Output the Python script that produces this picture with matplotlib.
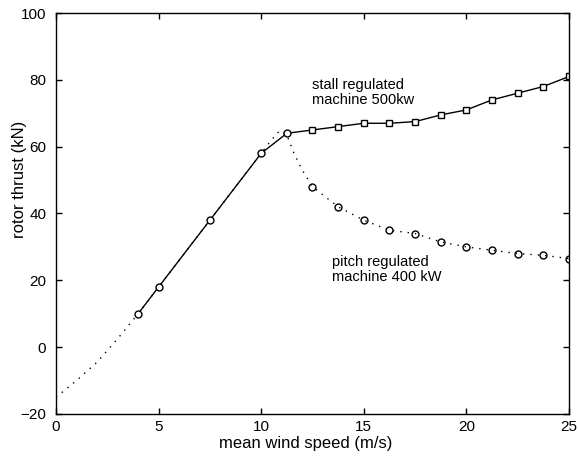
import numpy as np
import matplotlib.pyplot as plt

plt.rcParams.update({
  "font.family": "Liberation Sans",
  "font.size": 10.5
})

# stall regulated machine (solid line)
stall_circ_x = [4, 5, 7.5, 10, 11.25]
stall_circ_y = [10, 18, 38, 58, 64]
stall_sq_x = [12.5, 13.75, 15, 16.25, 17.5, 18.75, 20, 21.25, 22.5, 23.75, 25]
stall_sq_y = [65, 66, 67, 67, 67.5, 69.5, 71, 74, 76, 78, 81]

# pitch regulated machine (dotted line)
pitch_line_x = [0, 1, 2, 3, 4, 5, 7.5, 10, 10.5, 10.9, 11.25, 11.6, 12.0, 12.5,
                13.75, 15, 16.25, 17.5, 18.75, 20, 21.25, 22.5, 23.75, 25]
pitch_line_y = [-15, -10, -4.5, 2.5, 10, 18, 38, 58, 62, 64.8, 63.5, 58, 53, 48,
                42, 38, 35, 34, 31.5, 30, 29, 28, 27.5, 26.5]
pitch_mk_x = [12.5, 13.75, 15, 16.25, 17.5, 18.75, 20, 21.25, 22.5, 23.75, 25]
pitch_mk_y = [48, 42, 38, 35, 34, 31.5, 30, 29, 28, 27.5, 26.5]

fig = plt.figure(figsize=(5.78, 4.58), dpi=100)
ax = fig.add_axes([0.0969, 0.0961, 0.8875, 0.8755])

ax.plot(pitch_line_x, pitch_line_y, color='k', linestyle=(0, (1, 4.3)), linewidth=1.0)

ax.plot(stall_circ_x + stall_sq_x, stall_circ_y + stall_sq_y, '-',
        color='k', linewidth=1.0)
ax.plot(stall_circ_x, stall_circ_y, 'o', color='k', markerfacecolor='white',
        markersize=5, markeredgewidth=1.0)
ax.plot(stall_sq_x, stall_sq_y, 's', color='k', markerfacecolor='white',
        markersize=4, markeredgewidth=1.0)
ax.plot(pitch_mk_x, pitch_mk_y, 'o', color='k', markerfacecolor='none',
        markersize=5, markeredgewidth=1.0)

ax.text(12.5, 80.5, 'stall regulated\nmachine 500kw', va='top', ha='left',
        linespacing=1.05)
ax.text(13.45, 27.5, 'pitch regulated\nmachine 400 kW', va='top', ha='left',
        linespacing=1.05)

ax.set_xlim(0, 25)
ax.set_ylim(-20, 100)
ax.set_xticks([0, 5, 10, 15, 20, 25])
ax.set_yticks([-20, 0, 20, 40, 60, 80, 100])
ax.tick_params(direction='in', top=True, right=True, length=4, width=1, pad=4,
               labelsize=11)
ax.tick_params(axis='y', pad=7)
for s in ax.spines.values():
    s.set_linewidth(1.0)
ax.set_xlabel('mean wind speed (m/s)', fontsize=12)
ax.set_ylabel('rotor thrust (kN)', fontsize=12)
ax.xaxis.set_label_coords(0.486, -0.055)
ax.yaxis.set_label_coords(-0.057, 0.585)

plt.savefig('out.png', dpi=100)
